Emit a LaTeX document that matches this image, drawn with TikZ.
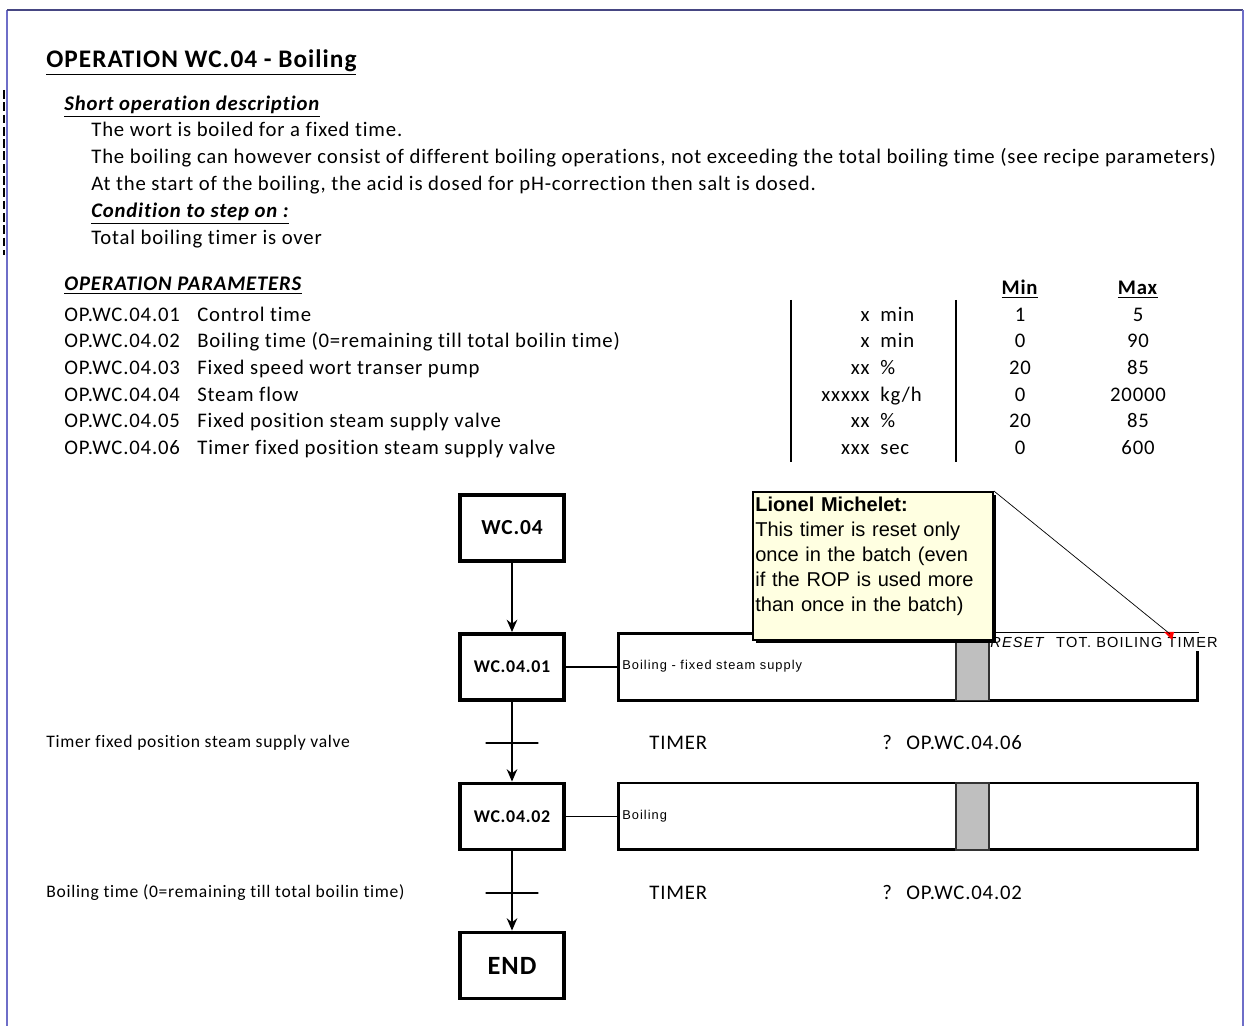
\documentclass[tikz,border=0pt]{standalone}
\usepackage{fontspec}
\setmainfont{Carlito}[LetterSpace=4,Ligatures=NoCommon]
\newfontfamily\tahomafont{Liberation Sans}
\newfontfamily\cellfont{Liberation Sans}[LetterSpace=8]
\usetikzlibrary{arrows.meta,shadows}
\definecolor{framecol}{RGB}{110,110,200}
\definecolor{frametop}{RGB}{70,70,130}
\definecolor{notefill}{RGB}{255,255,225}
\tikzset{
  txt/.style={anchor=base west,inner sep=0pt,font=\fontsize{11.8}{14}\selectfont},
  titletxt/.style={txt,font=\bfseries\fontsize{14.4}{17}\selectfont},
  sidetxt/.style={txt,font=\fontsize{10}{12}\selectfont},
  midtxt/.style={txt,anchor=base},
  stepbox/.style={draw,line width=2.2pt,minimum width=2.08cm,minimum height=1.32cm,inner sep=0pt,font=\bfseries\fontsize{10.2}{12}\selectfont},
  actbox/.style={draw,line width=1.7pt,minimum width=11.58cm,minimum height=1.34cm,inner sep=0pt},
  acttxt/.style={anchor=west,inner sep=0pt,font=\cellfont\fontsize{7.3}{9}\selectfont},
  transbar/.style={draw,line width=1.1pt,minimum width=1.06cm,minimum height=0pt,inner sep=0pt},
  flow/.style={line width=1.1pt,-{Stealth[length=7pt,width=6pt]}},
  note/.style={draw,line width=1.1pt,fill=notefill,minimum width=4.8cm,minimum height=2.96cm,anchor=north west,inner sep=0pt,
    drop shadow={shadow xshift=0.06cm,shadow yshift=-0.06cm,opacity=1,fill=black}},
  notetxt/.style={anchor=north west,inner sep=0pt,text width=4.7cm,align=left,font=\tahomafont\fontsize{11.4}{14.17}\selectfont}
}
\begin{document}
\begin{tikzpicture}[x=0.02cm,y=-0.02cm]
\useasboundingbox (0,0) rectangle (1245,1026);
\draw[framecol,line width=1.1pt] (7,1026) -- (7,10);
\draw[frametop,line width=1.1pt] (7,10) -- (1243,10);
\draw[framecol,line width=1.1pt] (1243,10) -- (1243,1026);
\draw[black,line width=1.7pt,dash pattern=on 5pt off 2pt] (4,90) -- (4,255);

\node[titletxt] (title) at (46,68) {\underline{OPERATION WC.04 - Boiling}};
\node[txt] (short) at (64,111) {\underline{\textbf{\textit{Short operation description}}}};
\node[txt] (desc1) at (91,137) {The wort is boiled for a fixed time.};
\node[txt] (desc2) at (91,164) {The boiling can however consist of different boiling operations, not exceeding the total boiling time (see recipe parameters)};
\node[txt] (desc3) at (91,191) {At the start of the boiling, the acid is dosed for pH-correction then salt is dosed.};
\node[txt] (cond) at (91,218) {\underline{\textbf{\textit{Condition to step on :}}}};
\node[txt] (condtxt) at (91,245) {Total boiling timer is over};

\node[txt] (params) at (64,291) {\underline{\textbf{\textit{OPERATION PARAMETERS}}}};
\node[midtxt] (minh) at (1020,295) {\underline{\textbf{Min}}};
\node[midtxt] (maxh) at (1138,295) {\underline{\textbf{Max}}};
\draw[line width=1.1pt] (791,300) -- (791,462);
\draw[line width=1.1pt] (956,300) -- (956,462);

\node[txt] (p1) at (64,322) {OP.WC.04.01};
\node[txt] (d1) at (197,322) {Control time};
\node[txt,anchor=base east] (q1) at (870,322) {x};
\node[txt] (u1) at (880,322) {min};
\node[midtxt] (m1) at (1020,322) {1};
\node[midtxt] (x1) at (1138,322) {5};

\node[txt] (p2) at (64,348) {OP.WC.04.02};
\node[txt] (d2) at (197,348) {Boiling time (0=remaining till total boilin time)};
\node[txt,anchor=base east] (q2) at (870,348) {x};
\node[txt] (u2) at (880,348) {min};
\node[midtxt] (m2) at (1020,348) {0};
\node[midtxt] (x2) at (1138,348) {90};

\node[txt] (p3) at (64,375) {OP.WC.04.03};
\node[txt] (d3) at (197,375) {Fixed speed wort transer pump};
\node[txt,anchor=base east] (q3) at (870,375) {xx};
\node[txt] (u3) at (880,375) {\%};
\node[midtxt] (m3) at (1020,375) {20};
\node[midtxt] (x3) at (1138,375) {85};

\node[txt] (p4) at (64,402) {OP.WC.04.04};
\node[txt] (d4) at (197,402) {Steam flow};
\node[txt,anchor=base east] (q4) at (870,402) {xxxxx};
\node[txt] (u4) at (880,402) {kg/h};
\node[midtxt] (m4) at (1020,402) {0};
\node[midtxt] (x4) at (1138,402) {20000};

\node[txt] (p5) at (64,428) {OP.WC.04.05};
\node[txt] (d5) at (197,428) {Fixed position steam supply valve};
\node[txt,anchor=base east] (q5) at (870,428) {xx};
\node[txt] (u5) at (880,428) {\%};
\node[midtxt] (m5) at (1020,428) {20};
\node[midtxt] (x5) at (1138,428) {85};

\node[txt] (p6) at (64,455) {OP.WC.04.06};
\node[txt] (d6) at (197,455) {Timer fixed position steam supply valve};
\node[txt,anchor=base east] (q6) at (870,455) {xxx};
\node[txt] (u6) at (880,455) {sec};
\node[midtxt] (m6) at (1020,455) {0};
\node[midtxt] (x6) at (1138,455) {600};

\node[stepbox,font=\bfseries\fontsize{12.2}{14}\selectfont] (s0) at (512,528) {WC.04};
\node[stepbox] (s1) at (512,667) {WC.04.01};
\node[stepbox] (s2) at (512,816.5) {WC.04.02};
\node[stepbox,font=\bfseries\fontsize{15}{17}\selectfont] (s3) at (512,965.5) {END};

\node[actbox] (a1) at (908,667) {};
\node[actbox] (a2) at (908,816.5) {};
\path[fill=gray!50,draw=black!80,line width=0.6pt] (956,633.5) rectangle (989,700.5);
\path[fill=gray!50,draw=black!80,line width=0.6pt] (956,783) rectangle (989,850);
\node[acttxt] (a1t) at (622,666) {Boiling - fixed steam supply};
\node[acttxt] (a2t) at (622,816) {Boiling};
\node[anchor=west,fill=white,inner xsep=0pt,inner ysep=2pt,font=\cellfont\fontsize{8.3}{9}\selectfont] (reset) at (990,642) {\textit{RESET}\hspace{6pt}TOT. BOILING TIMER};

\node[transbar] (t1) at (512,743) {};
\node[transbar] (t2) at (512,893) {};
\draw[flow] (s0) -- (s1);
\draw[line width=1.1pt] (s1) -- (a1);
\draw[line width=1.1pt] (s2) -- (a2);
\draw[flow] (s1) -- (t1) -- (s2);
\draw[flow] (s2) -- (t2) -- (s3);

\node[sidetxt] (t1l) at (46,748) {Timer fixed position steam supply valve};
\node[txt] (t1k) at (649,750) {TIMER};
\node[txt] (t1q) at (882,750) {?};
\node[txt] (t1p) at (906,750) {OP.WC.04.06};
\node[sidetxt] (t2l) at (46,898) {Boiling time (0=remaining till total boilin time)};
\node[txt] (t2k) at (649,900) {TIMER};
\node[txt] (t2q) at (882,900) {?};
\node[txt] (t2p) at (906,900) {OP.WC.04.02};

\fill[red] (1164,632) -- (1174,632) -- (1172,640) -- cycle;
\coordinate (ind) at (1170,634);
\node[note] (note) at (752,491) {};
\draw[line width=0.4pt] (note.north east) -- (ind);
\node[notetxt] (notetxt) at (755,497) {\textbf{Lionel Michelet:}\\This timer is reset only once in the batch (even if the ROP is used more than once in the batch)};
\end{tikzpicture}
\end{document}
